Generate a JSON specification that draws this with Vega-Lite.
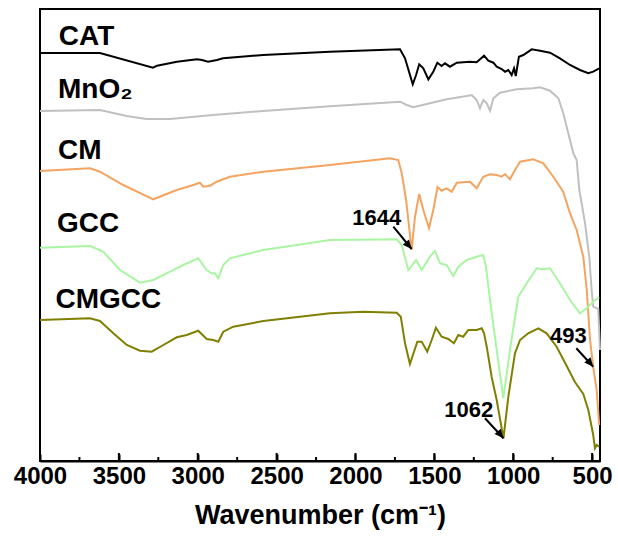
{
  "$schema": "https://vega.github.io/schema/vega-lite/v6.json",
  "width": 560,
  "height": 452,
  "autosize": {"type": "none"},
  "padding": {"left": 40, "top": 9, "right": 18, "bottom": 91},
  "config": {"view": {"stroke": "#000000", "strokeWidth": 2}, "font": "Liberation Sans"},
  "datasets": {
    "spectra": [
      {"sample": "CAT", "wavenumber": 4000, "signal": 408},
      {"sample": "CAT", "wavenumber": 3620, "signal": 408},
      {"sample": "CAT", "wavenumber": 3284, "signal": 393.3},
      {"sample": "CAT", "wavenumber": 3258, "signal": 395.3},
      {"sample": "CAT", "wavenumber": 3132, "signal": 399.3},
      {"sample": "CAT", "wavenumber": 3005, "signal": 401.7},
      {"sample": "CAT", "wavenumber": 2973, "signal": 401},
      {"sample": "CAT", "wavenumber": 2935, "signal": 399.3},
      {"sample": "CAT", "wavenumber": 2878, "signal": 401},
      {"sample": "CAT", "wavenumber": 2840, "signal": 402.7},
      {"sample": "CAT", "wavenumber": 2586, "signal": 406},
      {"sample": "CAT", "wavenumber": 2162, "signal": 409.3},
      {"sample": "CAT", "wavenumber": 1718, "signal": 411.7},
      {"sample": "CAT", "wavenumber": 1686, "signal": 402.7},
      {"sample": "CAT", "wavenumber": 1637, "signal": 376.7},
      {"sample": "CAT", "wavenumber": 1616, "signal": 386},
      {"sample": "CAT", "wavenumber": 1596, "signal": 396.7},
      {"sample": "CAT", "wavenumber": 1570, "signal": 392.7},
      {"sample": "CAT", "wavenumber": 1538, "signal": 381.7},
      {"sample": "CAT", "wavenumber": 1507, "signal": 389.3},
      {"sample": "CAT", "wavenumber": 1481, "signal": 398.3},
      {"sample": "CAT", "wavenumber": 1454, "signal": 395},
      {"sample": "CAT", "wavenumber": 1433, "signal": 397.7},
      {"sample": "CAT", "wavenumber": 1401, "signal": 394.3},
      {"sample": "CAT", "wavenumber": 1358, "signal": 398.3},
      {"sample": "CAT", "wavenumber": 1274, "signal": 399.3},
      {"sample": "CAT", "wavenumber": 1232, "signal": 398.7},
      {"sample": "CAT", "wavenumber": 1185, "signal": 405.3},
      {"sample": "CAT", "wavenumber": 1158, "signal": 400.3},
      {"sample": "CAT", "wavenumber": 1126, "signal": 398.3},
      {"sample": "CAT", "wavenumber": 1105, "signal": 394.3},
      {"sample": "CAT", "wavenumber": 1073, "signal": 392},
      {"sample": "CAT", "wavenumber": 1052, "signal": 389.3},
      {"sample": "CAT", "wavenumber": 1031, "signal": 391},
      {"sample": "CAT", "wavenumber": 1010, "signal": 386},
      {"sample": "CAT", "wavenumber": 995, "signal": 392.7},
      {"sample": "CAT", "wavenumber": 984, "signal": 385},
      {"sample": "CAT", "wavenumber": 964, "signal": 404.3},
      {"sample": "CAT", "wavenumber": 936, "signal": 406},
      {"sample": "CAT", "wavenumber": 883, "signal": 411.7},
      {"sample": "CAT", "wavenumber": 830, "signal": 410.3},
      {"sample": "CAT", "wavenumber": 767, "signal": 408.3},
      {"sample": "CAT", "wavenumber": 704, "signal": 402.7},
      {"sample": "CAT", "wavenumber": 640, "signal": 396},
      {"sample": "CAT", "wavenumber": 577, "signal": 391},
      {"sample": "CAT", "wavenumber": 524, "signal": 387.7},
      {"sample": "CAT", "wavenumber": 493, "signal": 389.3},
      {"sample": "CAT", "wavenumber": 461, "signal": 392},
      {"sample": "CAT", "wavenumber": 450, "signal": 393},

      {"sample": "MnO2", "wavenumber": 4000, "signal": 350},
      {"sample": "MnO2", "wavenumber": 3620, "signal": 351},
      {"sample": "MnO2", "wavenumber": 3450, "signal": 345},
      {"sample": "MnO2", "wavenumber": 3324, "signal": 342},
      {"sample": "MnO2", "wavenumber": 3176, "signal": 342},
      {"sample": "MnO2", "wavenumber": 2903, "signal": 346},
      {"sample": "MnO2", "wavenumber": 2586, "signal": 350},
      {"sample": "MnO2", "wavenumber": 2162, "signal": 354.7},
      {"sample": "MnO2", "wavenumber": 1718, "signal": 359.3},
      {"sample": "MnO2", "wavenumber": 1675, "signal": 356},
      {"sample": "MnO2", "wavenumber": 1634, "signal": 353.7},
      {"sample": "MnO2", "wavenumber": 1528, "signal": 357.7},
      {"sample": "MnO2", "wavenumber": 1422, "signal": 361.7},
      {"sample": "MnO2", "wavenumber": 1295, "signal": 365},
      {"sample": "MnO2", "wavenumber": 1263, "signal": 366},
      {"sample": "MnO2", "wavenumber": 1232, "signal": 361},
      {"sample": "MnO2", "wavenumber": 1211, "signal": 352.7},
      {"sample": "MnO2", "wavenumber": 1190, "signal": 361},
      {"sample": "MnO2", "wavenumber": 1168, "signal": 357.7},
      {"sample": "MnO2", "wavenumber": 1147, "signal": 350.3},
      {"sample": "MnO2", "wavenumber": 1126, "signal": 362.7},
      {"sample": "MnO2", "wavenumber": 1084, "signal": 368.3},
      {"sample": "MnO2", "wavenumber": 978, "signal": 371.7},
      {"sample": "MnO2", "wavenumber": 873, "signal": 372.7},
      {"sample": "MnO2", "wavenumber": 830, "signal": 373.7},
      {"sample": "MnO2", "wavenumber": 767, "signal": 370.3},
      {"sample": "MnO2", "wavenumber": 714, "signal": 362.7},
      {"sample": "MnO2", "wavenumber": 683, "signal": 347.7},
      {"sample": "MnO2", "wavenumber": 651, "signal": 327.7},
      {"sample": "MnO2", "wavenumber": 619, "signal": 307.7},
      {"sample": "MnO2", "wavenumber": 598, "signal": 301},
      {"sample": "MnO2", "wavenumber": 581, "signal": 271},
      {"sample": "MnO2", "wavenumber": 545, "signal": 238},
      {"sample": "MnO2", "wavenumber": 518, "signal": 204.3},
      {"sample": "MnO2", "wavenumber": 503, "signal": 171},
      {"sample": "MnO2", "wavenumber": 493, "signal": 154.3},
      {"sample": "MnO2", "wavenumber": 461, "signal": 152},
      {"sample": "MnO2", "wavenumber": 450, "signal": 111},

      {"sample": "CM", "wavenumber": 4000, "signal": 290},
      {"sample": "CM", "wavenumber": 3683, "signal": 292.7},
      {"sample": "CM", "wavenumber": 3620, "signal": 289.3},
      {"sample": "CM", "wavenumber": 3472, "signal": 276},
      {"sample": "CM", "wavenumber": 3282, "signal": 261.7},
      {"sample": "CM", "wavenumber": 3133, "signal": 271},
      {"sample": "CM", "wavenumber": 3028, "signal": 276},
      {"sample": "CM", "wavenumber": 2986, "signal": 278.3},
      {"sample": "CM", "wavenumber": 2965, "signal": 274.3},
      {"sample": "CM", "wavenumber": 2922, "signal": 275.3},
      {"sample": "CM", "wavenumber": 2880, "signal": 279.3},
      {"sample": "CM", "wavenumber": 2796, "signal": 284.3},
      {"sample": "CM", "wavenumber": 2584, "signal": 289.3},
      {"sample": "CM", "wavenumber": 2162, "signal": 296},
      {"sample": "CM", "wavenumber": 1781, "signal": 302.7},
      {"sample": "CM", "wavenumber": 1729, "signal": 301},
      {"sample": "CM", "wavenumber": 1707, "signal": 287.7},
      {"sample": "CM", "wavenumber": 1680, "signal": 262},
      {"sample": "CM", "wavenumber": 1644, "signal": 211},
      {"sample": "CM", "wavenumber": 1623, "signal": 244.3},
      {"sample": "CM", "wavenumber": 1596, "signal": 267},
      {"sample": "CM", "wavenumber": 1570, "signal": 251},
      {"sample": "CM", "wavenumber": 1534, "signal": 232.7},
      {"sample": "CM", "wavenumber": 1507, "signal": 251},
      {"sample": "CM", "wavenumber": 1480, "signal": 274},
      {"sample": "CM", "wavenumber": 1454, "signal": 270.3},
      {"sample": "CM", "wavenumber": 1422, "signal": 272.7},
      {"sample": "CM", "wavenumber": 1390, "signal": 269.3},
      {"sample": "CM", "wavenumber": 1358, "signal": 278.3},
      {"sample": "CM", "wavenumber": 1274, "signal": 279.3},
      {"sample": "CM", "wavenumber": 1232, "signal": 272.7},
      {"sample": "CM", "wavenumber": 1190, "signal": 284.3},
      {"sample": "CM", "wavenumber": 1147, "signal": 286.7},
      {"sample": "CM", "wavenumber": 1105, "signal": 286},
      {"sample": "CM", "wavenumber": 1073, "signal": 284.3},
      {"sample": "CM", "wavenumber": 1052, "signal": 287},
      {"sample": "CM", "wavenumber": 1021, "signal": 281.7},
      {"sample": "CM", "wavenumber": 989, "signal": 291},
      {"sample": "CM", "wavenumber": 957, "signal": 299.3},
      {"sample": "CM", "wavenumber": 873, "signal": 301.7},
      {"sample": "CM", "wavenumber": 809, "signal": 297.7},
      {"sample": "CM", "wavenumber": 746, "signal": 284.3},
      {"sample": "CM", "wavenumber": 704, "signal": 274.3},
      {"sample": "CM", "wavenumber": 683, "signal": 269},
      {"sample": "CM", "wavenumber": 640, "signal": 247.7},
      {"sample": "CM", "wavenumber": 598, "signal": 231},
      {"sample": "CM", "wavenumber": 556, "signal": 204.3},
      {"sample": "CM", "wavenumber": 534, "signal": 171},
      {"sample": "CM", "wavenumber": 513, "signal": 121},
      {"sample": "CM", "wavenumber": 493, "signal": 94},
      {"sample": "CM", "wavenumber": 471, "signal": 71},
      {"sample": "CM", "wavenumber": 455, "signal": 36},

      {"sample": "GCC", "wavenumber": 4000, "signal": 213.3},
      {"sample": "GCC", "wavenumber": 3683, "signal": 215},
      {"sample": "GCC", "wavenumber": 3599, "signal": 209.3},
      {"sample": "GCC", "wavenumber": 3493, "signal": 191},
      {"sample": "GCC", "wavenumber": 3366, "signal": 178.3},
      {"sample": "GCC", "wavenumber": 3282, "signal": 181},
      {"sample": "GCC", "wavenumber": 3176, "signal": 189.3},
      {"sample": "GCC", "wavenumber": 3092, "signal": 196},
      {"sample": "GCC", "wavenumber": 2997, "signal": 202.7},
      {"sample": "GCC", "wavenumber": 2943, "signal": 191},
      {"sample": "GCC", "wavenumber": 2912, "signal": 187.7},
      {"sample": "GCC", "wavenumber": 2891, "signal": 187.7},
      {"sample": "GCC", "wavenumber": 2870, "signal": 182.7},
      {"sample": "GCC", "wavenumber": 2838, "signal": 196},
      {"sample": "GCC", "wavenumber": 2796, "signal": 202.7},
      {"sample": "GCC", "wavenumber": 2584, "signal": 211},
      {"sample": "GCC", "wavenumber": 2162, "signal": 221},
      {"sample": "GCC", "wavenumber": 1739, "signal": 221.7},
      {"sample": "GCC", "wavenumber": 1707, "signal": 216},
      {"sample": "GCC", "wavenumber": 1665, "signal": 191},
      {"sample": "GCC", "wavenumber": 1616, "signal": 201},
      {"sample": "GCC", "wavenumber": 1580, "signal": 191},
      {"sample": "GCC", "wavenumber": 1528, "signal": 204.3},
      {"sample": "GCC", "wavenumber": 1496, "signal": 210},
      {"sample": "GCC", "wavenumber": 1464, "signal": 197.7},
      {"sample": "GCC", "wavenumber": 1422, "signal": 196},
      {"sample": "GCC", "wavenumber": 1380, "signal": 185},
      {"sample": "GCC", "wavenumber": 1348, "signal": 194.3},
      {"sample": "GCC", "wavenumber": 1295, "signal": 201},
      {"sample": "GCC", "wavenumber": 1232, "signal": 204.3},
      {"sample": "GCC", "wavenumber": 1190, "signal": 206},
      {"sample": "GCC", "wavenumber": 1173, "signal": 194.3},
      {"sample": "GCC", "wavenumber": 1147, "signal": 161},
      {"sample": "GCC", "wavenumber": 1105, "signal": 111},
      {"sample": "GCC", "wavenumber": 1063, "signal": 62.7},
      {"sample": "GCC", "wavenumber": 1021, "signal": 111},
      {"sample": "GCC", "wavenumber": 968, "signal": 164.3},
      {"sample": "GCC", "wavenumber": 915, "signal": 177.7},
      {"sample": "GCC", "wavenumber": 851, "signal": 192.7},
      {"sample": "GCC", "wavenumber": 809, "signal": 191.7},
      {"sample": "GCC", "wavenumber": 767, "signal": 192.7},
      {"sample": "GCC", "wavenumber": 704, "signal": 177.7},
      {"sample": "GCC", "wavenumber": 640, "signal": 161},
      {"sample": "GCC", "wavenumber": 577, "signal": 147.7},
      {"sample": "GCC", "wavenumber": 534, "signal": 152.7},
      {"sample": "GCC", "wavenumber": 493, "signal": 159.3},
      {"sample": "GCC", "wavenumber": 455, "signal": 163.7},

      {"sample": "CMGCC", "wavenumber": 4000, "signal": 141},
      {"sample": "CMGCC", "wavenumber": 3683, "signal": 142.7},
      {"sample": "CMGCC", "wavenumber": 3620, "signal": 140},
      {"sample": "CMGCC", "wavenumber": 3535, "signal": 127.7},
      {"sample": "CMGCC", "wavenumber": 3450, "signal": 116},
      {"sample": "CMGCC", "wavenumber": 3366, "signal": 110.3},
      {"sample": "CMGCC", "wavenumber": 3292, "signal": 109.3},
      {"sample": "CMGCC", "wavenumber": 3218, "signal": 116},
      {"sample": "CMGCC", "wavenumber": 3133, "signal": 123.7},
      {"sample": "CMGCC", "wavenumber": 3070, "signal": 126},
      {"sample": "CMGCC", "wavenumber": 2997, "signal": 130.3},
      {"sample": "CMGCC", "wavenumber": 2943, "signal": 122},
      {"sample": "CMGCC", "wavenumber": 2901, "signal": 121},
      {"sample": "CMGCC", "wavenumber": 2870, "signal": 119.3},
      {"sample": "CMGCC", "wavenumber": 2838, "signal": 129.3},
      {"sample": "CMGCC", "wavenumber": 2775, "signal": 134.3},
      {"sample": "CMGCC", "wavenumber": 2584, "signal": 140},
      {"sample": "CMGCC", "wavenumber": 2162, "signal": 147.7},
      {"sample": "CMGCC", "wavenumber": 1951, "signal": 149.3},
      {"sample": "CMGCC", "wavenumber": 1739, "signal": 148.3},
      {"sample": "CMGCC", "wavenumber": 1713, "signal": 144.3},
      {"sample": "CMGCC", "wavenumber": 1686, "signal": 117.7},
      {"sample": "CMGCC", "wavenumber": 1655, "signal": 97},
      {"sample": "CMGCC", "wavenumber": 1608, "signal": 119.3},
      {"sample": "CMGCC", "wavenumber": 1580, "signal": 119.3},
      {"sample": "CMGCC", "wavenumber": 1545, "signal": 109.3},
      {"sample": "CMGCC", "wavenumber": 1517, "signal": 121},
      {"sample": "CMGCC", "wavenumber": 1490, "signal": 133.3},
      {"sample": "CMGCC", "wavenumber": 1454, "signal": 124.3},
      {"sample": "CMGCC", "wavenumber": 1412, "signal": 122},
      {"sample": "CMGCC", "wavenumber": 1376, "signal": 117.7},
      {"sample": "CMGCC", "wavenumber": 1348, "signal": 126},
      {"sample": "CMGCC", "wavenumber": 1317, "signal": 124.3},
      {"sample": "CMGCC", "wavenumber": 1285, "signal": 131},
      {"sample": "CMGCC", "wavenumber": 1232, "signal": 131},
      {"sample": "CMGCC", "wavenumber": 1200, "signal": 132.7},
      {"sample": "CMGCC", "wavenumber": 1185, "signal": 127.7},
      {"sample": "CMGCC", "wavenumber": 1168, "signal": 114.3},
      {"sample": "CMGCC", "wavenumber": 1137, "signal": 84.3},
      {"sample": "CMGCC", "wavenumber": 1105, "signal": 61},
      {"sample": "CMGCC", "wavenumber": 1062, "signal": 22.7},
      {"sample": "CMGCC", "wavenumber": 1031, "signal": 64.3},
      {"sample": "CMGCC", "wavenumber": 989, "signal": 107.7},
      {"sample": "CMGCC", "wavenumber": 957, "signal": 121},
      {"sample": "CMGCC", "wavenumber": 905, "signal": 127.7},
      {"sample": "CMGCC", "wavenumber": 841, "signal": 132.7},
      {"sample": "CMGCC", "wavenumber": 788, "signal": 127.7},
      {"sample": "CMGCC", "wavenumber": 725, "signal": 114.3},
      {"sample": "CMGCC", "wavenumber": 661, "signal": 95},
      {"sample": "CMGCC", "wavenumber": 609, "signal": 79},
      {"sample": "CMGCC", "wavenumber": 556, "signal": 67},
      {"sample": "CMGCC", "wavenumber": 524, "signal": 51},
      {"sample": "CMGCC", "wavenumber": 493, "signal": 26},
      {"sample": "CMGCC", "wavenumber": 482, "signal": 12.7},
      {"sample": "CMGCC", "wavenumber": 471, "signal": 16},
      {"sample": "CMGCC", "wavenumber": 455, "signal": 14.3}
    ],
    "labels": [
      {"label": "CAT", "wavenumber": 3881, "signal": 416},
      {"label": "MnO₂", "wavenumber": 3886, "signal": 362.7},
      {"label": "CM", "wavenumber": 3886, "signal": 301.7},
      {"label": "GCC", "wavenumber": 3892, "signal": 229.3},
      {"label": "CMGCC", "wavenumber": 3902, "signal": 152.7}
    ],
    "arrows": [
      {"peak": "1644", "text_w": 1865, "text_s": 236, "from_w": 1760, "from_s": 234.3, "to_w": 1644, "to_s": 212},
      {"peak": "1062", "text_w": 1282, "text_s": 44.3, "from_w": 1179, "from_s": 42.7, "to_w": 1062, "to_s": 22.7},
      {"peak": "493", "text_w": 651, "text_s": 117.7, "from_w": 600, "from_s": 112.7, "to_w": 493, "to_s": 94.3}
    ],
    "major_ticks": [
      {"wavenumber": 3500}, {"wavenumber": 3000}, {"wavenumber": 2500}, {"wavenumber": 2000},
      {"wavenumber": 1500}, {"wavenumber": 1000}, {"wavenumber": 500}
    ],
    "minor_ticks": [
      {"wavenumber": 3750}, {"wavenumber": 3250}, {"wavenumber": 2750}, {"wavenumber": 2250},
      {"wavenumber": 1750}, {"wavenumber": 1250}, {"wavenumber": 750}
    ]
  },
  "layer": [
    {
      "data": {"name": "spectra"},
      "mark": {"type": "line", "strokeWidth": 2},
      "encoding": {
        "x": {
          "field": "wavenumber", "type": "quantitative",
          "scale": {"domain": [4000, 450], "nice": false, "zero": false},
          "axis": {
            "orient": "bottom",
            "values": [4000, 3500, 3000, 2500, 2000, 1500, 1000, 500],
            "format": "d",
            "grid": false,
            "labelFont": "Liberation Sans", "labelFontSize": 24, "labelFontWeight": "bold", "labelColor": "#000000",
            "labelPadding": 10, "labelFlush": false, "labelOverlap": false,
            "tickSize": -7, "tickWidth": 2, "tickColor": "#000000",
            "domainColor": "#000000", "domainWidth": 2,
            "title": "Wavenumber (cm⁻¹)",
            "titleFont": "Liberation Sans", "titleFontSize": 27, "titleFontWeight": "bold", "titleColor": "#000000",
            "titlePadding": 14
          }
        },
        "y": {
          "field": "signal", "type": "quantitative",
          "scale": {"domain": [0, 452], "nice": false, "zero": false},
          "axis": null
        },
        "color": {
          "field": "sample", "type": "nominal",
          "scale": {"domain": ["CAT", "MnO2", "CM", "GCC", "CMGCC"], "range": ["#000000", "#c0c0c0", "#f4a460", "#aaf5a2", "#808000"]},
          "legend": null
        }
      }
    },
    {
      "data": {"name": "major_ticks"},
      "mark": {"type": "tick", "orient": "vertical", "thickness": 2, "size": 8, "yOffset": -4, "color": "#000000", "opacity": 1},
      "encoding": {
        "x": {"field": "wavenumber", "type": "quantitative", "axis": null},
        "y": {"datum": 0, "type": "quantitative"}
      }
    },
    {
      "data": {"name": "minor_ticks"},
      "mark": {"type": "tick", "orient": "vertical", "thickness": 2, "size": 4, "yOffset": -2, "color": "#000000", "opacity": 1},
      "encoding": {
        "x": {"field": "wavenumber", "type": "quantitative", "axis": null},
        "y": {"datum": 0, "type": "quantitative"}
      }
    },
    {
      "data": {"name": "labels"},
      "mark": {"type": "text", "align": "left", "baseline": "alphabetic", "fontSize": 28, "fontWeight": "bold", "font": "Liberation Sans", "color": "#000000"},
      "encoding": {
        "x": {"field": "wavenumber", "type": "quantitative", "axis": null},
        "y": {"field": "signal", "type": "quantitative"},
        "text": {"field": "label"}
      }
    },
    {
      "data": {"name": "arrows"},
      "mark": {"type": "rule", "strokeWidth": 2, "color": "#000000"},
      "encoding": {
        "x": {"field": "from_w", "type": "quantitative", "axis": null},
        "x2": {"field": "to_w"},
        "y": {"field": "from_s", "type": "quantitative"},
        "y2": {"field": "to_s"}
      }
    },
    {
      "data": {"name": "arrows"},
      "mark": {"type": "point", "shape": "M0,0 L-0.45,1 L0.45,1 Z", "filled": true, "color": "#000000", "opacity": 1, "size": 324, "angle": 140},
      "encoding": {
        "x": {"field": "to_w", "type": "quantitative", "axis": null},
        "y": {"field": "to_s", "type": "quantitative"}
      }
    },
    {
      "data": {"name": "arrows"},
      "mark": {"type": "text", "align": "center", "baseline": "alphabetic", "fontSize": 22, "fontWeight": "bold", "font": "Liberation Sans", "color": "#000000"},
      "encoding": {
        "x": {"field": "text_w", "type": "quantitative", "axis": null},
        "y": {"field": "text_s", "type": "quantitative"},
        "text": {"field": "peak"}
      }
    }
  ],
  "resolve": {"axis": {"x": "independent"}}
}
